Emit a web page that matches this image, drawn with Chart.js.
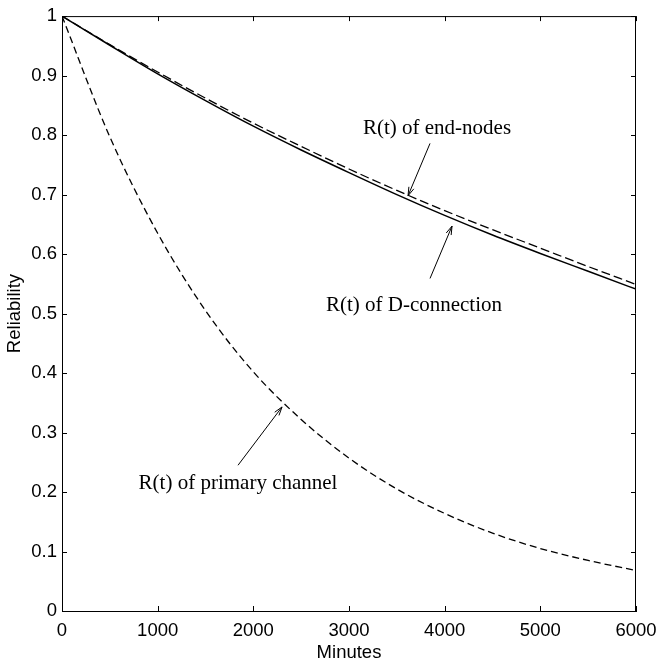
<!DOCTYPE html>
<html>
<head>
<meta charset="utf-8">
<script src="https://cdn.jsdelivr.net/npm/chart.js@4"></script>
<style>
  html, body { margin: 0; padding: 0; background: #fff; }
  #wrap { width: 659px; height: 660px; }
</style>
</head>
<body>
<div id="wrap"><canvas id="c"></canvas></div>
<script>
// minutes
const minutes = [0, 500, 1000, 1500, 2000, 2500, 3000, 3500, 4000, 4500, 5000, 5500, 6000];

// reliability curves
const endNodes = [1.0, 0.952, 0.906, 0.862, 0.820, 0.781, 0.743, 0.707, 0.673, 0.641, 0.610, 0.579, 0.549];
const dConnection = [1.0, 0.951, 0.903, 0.858, 0.815, 0.775, 0.737, 0.700, 0.665, 0.632, 0.601, 0.571, 0.541];
const primaryChannel = [1.0, 0.797, 0.635, 0.505, 0.402, 0.322, 0.257, 0.205, 0.164, 0.131, 0.105, 0.085, 0.068];

const xTicks = [0, 1000, 2000, 3000, 4000, 5000, 6000];
const xTickLabels = ['0', '1000', '2000', '3000', '4000', '5000', '6000'];
const yTickLabels = ['0', '0.1', '0.2', '0.3', '0.4', '0.5', '0.6', '0.7', '0.8', '0.9', '1'];

// text labels with arrows, in data coordinates
const notes = [
    {text: 'R(t) of end-nodes', x: 3920, y: 0.811, from: [3847, 0.786], to: [3617, 0.698]},
    {text: 'R(t) of D-connection', x: 3679, y: 0.514, from: [3847, 0.559], to: [4077, 0.647]},
    {text: 'R(t) of primary channel', x: 1840, y: 0.214, from: [1840, 0.245], to: [2300, 0.343]}
];

const tickFont = {family: '"Liberation Sans", Arial, sans-serif', size: 18.5};

const pts = ys => ys.map((y, i) => ({x: minutes[i], y: y}));

const frame = {
    id: 'frame',
    afterDatasetsDraw(chart) {
        const ctx = chart.ctx;
        const a = chart.chartArea;
        const xs = chart.scales.x, ys = chart.scales.y;
        ctx.save();
        ctx.strokeStyle = '#000';
        ctx.lineWidth = 1;
        ctx.beginPath();
        ctx.moveTo(a.left, a.top + 0.5);
        ctx.lineTo(a.right, a.top + 0.5);
        ctx.moveTo(a.right - 0.5, a.top);
        ctx.lineTo(a.right - 0.5, a.bottom);
        // inward ticks on all four sides
        for (const v of xTicks) {
            const px = Math.round(xs.getPixelForValue(v)) + 0.5;
            ctx.moveTo(px, a.bottom); ctx.lineTo(px, a.bottom - 5);
            ctx.moveTo(px, a.top); ctx.lineTo(px, a.top + 5);
        }
        for (let i = 0; i < yTickLabels.length; i++) {
            const py = Math.round(ys.getPixelForValue(i / 10)) + 0.5;
            ctx.moveTo(a.left, py); ctx.lineTo(a.left + 5, py);
            ctx.moveTo(a.right, py); ctx.lineTo(a.right - 5, py);
        }
        ctx.stroke();

        // annotations
        ctx.font = '21px "Liberation Serif", "Times New Roman", serif';
        ctx.fillStyle = '#000';
        ctx.textAlign = 'center';
        ctx.textBaseline = 'middle';
        ctx.lineWidth = 1;
        for (const n of notes) {
            ctx.fillText(n.text, xs.getPixelForValue(n.x), ys.getPixelForValue(n.y));
            const x0 = xs.getPixelForValue(n.from[0]), y0 = ys.getPixelForValue(n.from[1]);
            const x1 = xs.getPixelForValue(n.to[0]), y1 = ys.getPixelForValue(n.to[1]);
            const ang = Math.atan2(y1 - y0, x1 - x0);
            ctx.beginPath();
            ctx.moveTo(x0, y0);
            ctx.lineTo(x1, y1);
            ctx.moveTo(x1 - 9 * Math.cos(ang - 0.3), y1 - 9 * Math.sin(ang - 0.3));
            ctx.lineTo(x1, y1);
            ctx.lineTo(x1 - 9 * Math.cos(ang + 0.3), y1 - 9 * Math.sin(ang + 0.3));
            ctx.stroke();
        }
        ctx.restore();
    }
};

new Chart(document.getElementById('c'), {
    type: 'line',
    data: {
        datasets: [{
            label: 'R(t) of end-nodes',
            data: pts(endNodes),
            borderColor: '#000',
            borderWidth: 1.3,
            borderDash: [9, 4],
            pointRadius: 0,
            cubicInterpolationMode: 'monotone'
        }, {
            label: 'R(t) of D-connection',
            data: pts(dConnection),
            borderColor: '#000',
            borderWidth: 1.5,
            pointRadius: 0,
            cubicInterpolationMode: 'monotone'
        }, {
            label: 'R(t) of primary channel',
            data: pts(primaryChannel),
            borderColor: '#000',
            borderWidth: 1.3,
            borderDash: [7, 4],
            pointRadius: 0,
            cubicInterpolationMode: 'monotone'
        }]
    },
    options: {
        responsive: true,
        maintainAspectRatio: false,
        animation: false,
        layout: {padding: {top: 14, right: 23, left: 0, bottom: 0}},
        plugins: {
            legend: {display: false},
            tooltip: {enabled: false}
        },
        scales: {
            x: {
                type: 'linear',
                min: 0,
                max: 6000,
                afterFit: s => { s.height = 49; s.paddingRight = 0; s.paddingLeft = 0; },
                afterBuildTicks: s => { s.ticks = xTicks.map(v => ({value: v})); },
                ticks: {
                    font: tickFont, color: '#000', padding: 9, maxRotation: 0,
                    callback: (v, i) => xTickLabels[i]
                },
                grid: {display: false, drawTicks: false},
                border: {display: true, color: '#000', width: 1},
                title: {display: true, text: 'Minutes', font: tickFont, color: '#000', padding: {top: 0, bottom: -4}}
            },
            y: {
                min: 0,
                max: 1,
                afterFit: s => { s.width = 62; },
                afterBuildTicks: s => { s.ticks = yTickLabels.map((t, i) => ({value: i / 10})); },
                ticks: {
                    font: tickFont, color: '#000', padding: 5,
                    callback: (v, i) => yTickLabels[i]
                },
                grid: {display: false, drawTicks: false},
                border: {display: true, color: '#000', width: 1},
                title: {display: true, text: 'Reliability', font: tickFont, color: '#000', padding: {top: 4, bottom: 0}}
            }
        }
    },
    plugins: [frame]
});
</script>
</body>
</html>
